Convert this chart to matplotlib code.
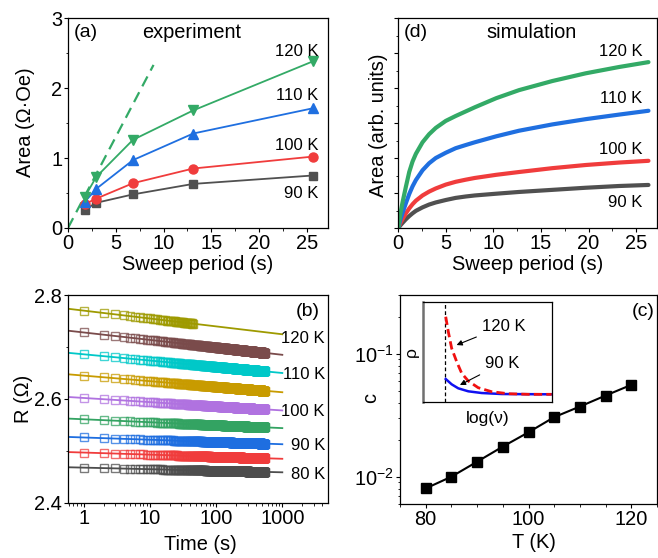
import numpy as np
import matplotlib
matplotlib.use("Agg")
import matplotlib.pyplot as plt
from matplotlib.ticker import MultipleLocator, NullFormatter, LogLocator

plt.rcParams['font.family'] = ['Liberation Sans', 'DejaVu Sans']
plt.rcParams['font.size'] = 14.4
plt.rcParams['mathtext.fontset'] = 'custom'
plt.rcParams['mathtext.rm'] = 'Liberation Sans'
plt.rcParams['xtick.direction'] = 'out'
plt.rcParams['ytick.direction'] = 'out'
plt.rcParams['xtick.major.size'] = 3
plt.rcParams['ytick.major.size'] = 3
plt.rcParams['xtick.minor.size'] = 1.8
plt.rcParams['ytick.minor.size'] = 1.8
plt.rcParams['xtick.major.pad'] = 1.5
plt.rcParams['ytick.major.pad'] = 1.2
plt.rcParams['axes.linewidth'] = 0.9

# ---- (a) experiment
periods = [1.74, 2.96, 6.8, 13.1, 25.6]
area_90 = [0.26, 0.36, 0.48, 0.63, 0.75]
area_100 = [0.34, 0.42, 0.64, 0.85, 1.02]
area_110 = [0.37, 0.56, 0.97, 1.35, 1.71]
area_120 = [0.44, 0.73, 1.26, 1.68, 2.38]
dash_x = [0, 8.95]
dash_y = [0, 2.33]

# ---- (d) simulation
sim_t = [0, 0.2, 0.46, 0.8, 1.15, 1.5, 1.85, 2.55, 3.24, 3.94, 4.99, 6.03, 7.08,
         8.05, 10.3, 12.7, 16.2, 19.7, 23.2, 26.3]
sim_120 = [0, 0.38, 0.75, 1.18, 1.6, 1.9, 2.12, 2.45, 2.68, 2.86, 3.06, 3.20, 3.33,
           3.45, 3.71, 3.94, 4.20, 4.42, 4.60, 4.74]
sim_110 = [0, 0.22, 0.44, 0.71, 0.97, 1.19, 1.37, 1.65, 1.85, 2.0, 2.15, 2.28, 2.37,
           2.45, 2.62, 2.78, 2.96, 3.11, 3.24, 3.35]
sim_100 = [0, 0.13, 0.26, 0.42, 0.56, 0.68, 0.78, 0.93, 1.04, 1.13, 1.24, 1.32, 1.38,
           1.43, 1.52, 1.60, 1.71, 1.80, 1.87, 1.92]
sim_90 = [0, 0.07, 0.15, 0.25, 0.34, 0.42, 0.49, 0.59, 0.67, 0.73, 0.80, 0.86, 0.90,
          0.93, 0.98, 1.03, 1.09, 1.15, 1.20, 1.23]

# ---- (b) relaxation
temps_b = [80, 85, 90, 95, 100, 105, 110, 115, 120]
R_1s = [2.468, 2.497, 2.526, 2.561, 2.602, 2.645, 2.686, 2.728, 2.770]
R_1000s = [2.459, 2.485, 2.513, 2.544, 2.578, 2.613, 2.650, 2.685, 2.7245]
t_last = [540, 540, 540, 540, 540, 540, 540, 540, 45]
colors_b = ['#4d4d4d', '#f03c3c', '#1e6ee0', '#33a362', '#b072e0',
            '#c89b00', '#00c8c8', '#7a4b4b', '#9e9a00']
labels_b = ['80 K', '90 K', '100 K', '110 K', '120 K']
labels_b_y = [2.4545, 2.511, 2.576, 2.648, 2.717]

# ---- (c) c vs T
T_c = [80, 85, 90, 95, 100, 105, 110, 115, 120]
c_vals = [0.00803, 0.0100, 0.01324, 0.01757, 0.02297, 0.0305, 0.0372, 0.0457, 0.0558]

# inset
inset_x_red = [0.174, 0.194, 0.22, 0.259, 0.298, 0.349, 0.426, 0.53, 0.659, 0.814, 0.995]
inset_y_red = [0.856, 0.706, 0.54, 0.406, 0.29, 0.213, 0.146, 0.106, 0.086, 0.08, 0.08]
inset_x_blue = [0.174, 0.22, 0.271, 0.349, 0.453, 0.608, 0.995]
inset_y_blue = [0.233, 0.18, 0.14, 0.11, 0.093, 0.083, 0.08]

green = '#33aa66'
blue = '#1f6fe0'
red = '#f03c3c'
gray = '#505050'

fig = plt.figure(figsize=(6.58, 5.58), dpi=100)
ax_a = fig.add_axes([0.1033, 0.5914, 0.3952, 0.3763])
ax_d = fig.add_axes([0.6053, 0.5914, 0.3932, 0.3763])
ax_b = fig.add_axes([0.1033, 0.0986, 0.3952, 0.3727])
ax_c = fig.add_axes([0.6079, 0.0968, 0.3906, 0.3745])

# (a)
ax_a.plot(dash_x, dash_y, '--', color=green, lw=1.6, dashes=(5, 3))
ax_a.plot(periods, area_90, '-s', color=gray, lw=1.3, ms=5.5)
ax_a.plot(periods, area_100, '-o', color=red, lw=1.3, ms=6.5)
ax_a.plot(periods, area_110, '-^', color=blue, lw=1.3, ms=7.5)
ax_a.plot(periods, area_120, '-v', color=green, lw=1.3, ms=7.5)
ax_a.set_xlim(0, 27.2)
ax_a.set_ylim(0, 3)
ax_a.xaxis.set_major_locator(MultipleLocator(5))
ax_a.xaxis.set_minor_locator(MultipleLocator(2.5))
ax_a.yaxis.set_major_locator(MultipleLocator(1))
ax_a.yaxis.set_minor_locator(MultipleLocator(0.5))
ax_a.set_xlabel('Sweep period (s)', va='center')
ax_a.xaxis.set_label_coords(0.5, -0.176)
ax_a.set_ylabel('Area (Ω·Oe)', va='center')
ax_a.yaxis.set_label_coords(-0.165, 0.505)
for txt, yy in zip(['120 K', '110 K', '100 K', '90 K'], [2.52, 1.90, 1.18, 0.50]):
    ax_a.text(26.2, yy, txt, ha='right', va='center', fontsize=12)
ax_a.text(0.6, 2.79, '(a)', ha='left', va='center', fontsize=14)
ax_a.text(12.96, 2.79, 'experiment', ha='center', va='center', fontsize=14.4)

# (d)
for vals, col in zip([sim_90, sim_100, sim_110, sim_120], [gray, red, blue, green]):
    ax_d.plot(sim_t, vals, color=col, lw=3, solid_capstyle='round',
              solid_joinstyle='round')
ax_d.set_xlim(0, 27.2)
ax_d.set_ylim(0, 6)
ax_d.xaxis.set_major_locator(MultipleLocator(5))
ax_d.xaxis.set_minor_locator(MultipleLocator(2.5))
ax_d.yaxis.set_major_locator(MultipleLocator(1))
ax_d.yaxis.set_minor_locator(MultipleLocator(0.5))
ax_d.yaxis.set_major_formatter(NullFormatter())
ax_d.set_xlabel('Sweep period (s)', va='center')
ax_d.xaxis.set_label_coords(0.5, -0.176)
ax_d.set_ylabel('Area (arb. units)', va='center')
ax_d.yaxis.set_label_coords(-0.078, 0.49)
for txt, yy in zip(['120 K', '110 K', '100 K', '90 K'], [5.04, 3.69, 2.23, 0.73]):
    ax_d.text(25.7, yy, txt, ha='right', va='center', fontsize=12)
ax_d.text(0.6, 5.58, '(d)', ha='left', va='center', fontsize=14)
ax_d.text(14.05, 5.58, 'simulation', ha='center', va='center', fontsize=14.4)

# (b)
t_fit = np.array([0.58, 1000])
for r1, r1000, tl, col in zip(R_1s, R_1000s, t_last, colors_b):
    slope = (r1000 - r1) / 3.0
    ax_b.plot(t_fit, r1 + slope * np.log10(t_fit), color=col, lw=1.3)
    t_data = np.arange(1, tl + 1)
    ax_b.plot(t_data, r1 + slope * np.log10(t_data), 's', mfc='none',
              mec=col, mew=1.0, ms=5.5, alpha=0.75)
ax_b.set_xscale('log')
ax_b.set_xlim(0.58, 4900)
ax_b.set_ylim(2.4, 2.8)
ax_b.yaxis.set_major_locator(MultipleLocator(0.2))
ax_b.yaxis.set_minor_locator(MultipleLocator(0.1))
ax_b.set_xticks([1, 10, 100, 1000])
ax_b.set_xticklabels(['1', '10', '100', '1000'])
ax_b.xaxis.set_minor_locator(LogLocator(base=10, subs=np.arange(2, 10)))
ax_b.xaxis.set_minor_formatter(NullFormatter())
ax_b.set_xlabel('Time (s)', va='center')
ax_b.xaxis.set_label_coords(0.508, -0.202)
ax_b.set_ylabel('R (Ω)', va='center')
ax_b.yaxis.set_label_coords(-0.171, 0.5)
for txt, yy in zip(labels_b, labels_b_y):
    ax_b.text(4400, yy, txt, ha='right', va='center', fontsize=12)
ax_b.text(3650, 2.768, '(b)', ha='right', va='center', fontsize=14)

# (c)
ax_c.plot(T_c, c_vals, '-s', color='black', lw=1.5, ms=6.5)
ax_c.set_yscale('log')
ax_c.set_xlim(75, 125)
ax_c.set_ylim(0.006, 0.3)
ax_c.xaxis.set_major_locator(MultipleLocator(20))
ax_c.xaxis.set_minor_locator(MultipleLocator(5))
ax_c.yaxis.set_minor_formatter(NullFormatter())
ax_c.set_yticks([0.01, 0.1])
ax_c.set_yticklabels(['$10^{-2}$', '$10^{-1}$'])
ax_c.set_xlabel('T (K)', va='center')
ax_c.xaxis.set_label_coords(0.52, -0.182)
ax_c.set_ylabel('c', va='center')
ax_c.yaxis.set_label_coords(-0.113, 0.507)
ax_c.text(124.5, 0.221, '(c)', ha='right', va='center', fontsize=14)

# inset
ax_i = fig.add_axes([0.6433, 0.2790, 0.1960, 0.1792])
ax_i.axvline(0.168, color='black', ls='--', lw=0.9, dashes=(3, 2))
ax_i.plot(inset_x_blue, inset_y_blue, color='#1010f0', lw=1.8)
ax_i.plot(inset_x_red, inset_y_red, color='#f01010', lw=2, ls='--', dashes=(3, 1.5))
ax_i.set_xlim(0, 1)
ax_i.set_ylim(0, 1)
ax_i.set_xticks([])
ax_i.set_yticks([])
ax_i.spines['left'].set_linewidth(1.8)
ax_i.spines['left'].set_color('#707070')
ax_i.set_xlabel('log(ν)', fontsize=12.5, labelpad=6)
ax_i.set_ylabel('ρ', fontsize=12.5, labelpad=3)
ax_i.annotate('120 K', xy=(0.258, 0.573), xytext=(0.453, 0.763), fontsize=12,
              va='center', ha='left',
              arrowprops=dict(arrowstyle='-|>', color='black', lw=0.8,
                              mutation_scale=8, shrinkA=2, shrinkB=0))
ax_i.annotate('90 K', xy=(0.284, 0.173), xytext=(0.478, 0.39), fontsize=12,
              va='center', ha='left',
              arrowprops=dict(arrowstyle='-|>', color='black', lw=0.8,
                              mutation_scale=8, shrinkA=2, shrinkB=0))

plt.savefig('out.png', dpi=100)
